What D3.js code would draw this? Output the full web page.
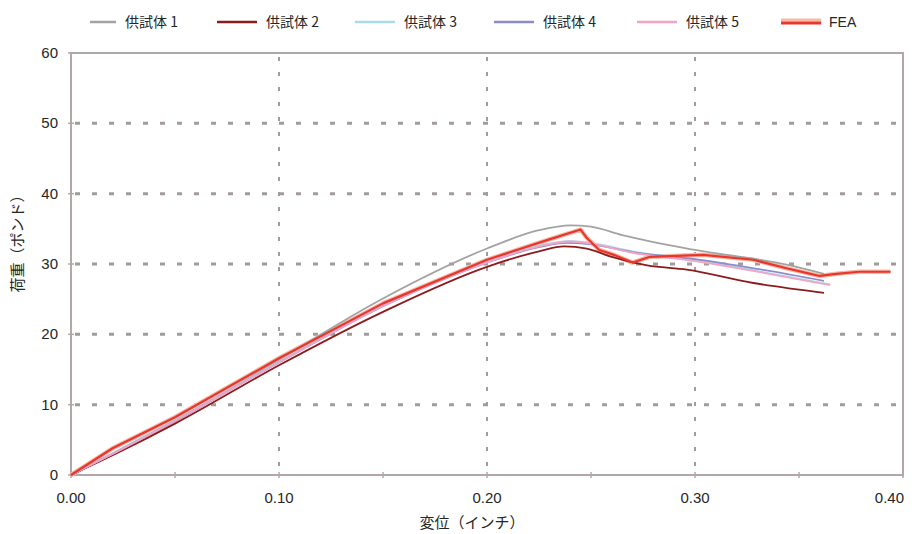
<!DOCTYPE html>
<html>
<head>
<meta charset="utf-8">
<script src="https://cdn.jsdelivr.net/npm/d3@7"></script>
<style>
  body { margin: 0; background: #fff; }
  svg { display: block; }
  text { font-family: "Liberation Sans", Arial, "Noto Sans CJK JP", sans-serif; fill: #262626; }
  .jp { font-family: "Noto Sans CJK JP", sans-serif; }
</style>
</head>
<body>
<svg width="923" height="534"></svg>
<script>
// series names
const names = ['供試体 1', '供試体 2', '供試体 3', '供試体 4', '供試体 5', 'FEA'];
const colors = ['#a3a3a3', '#8c1c1c', '#a9dbe8', '#8c8cc8', '#f3a3c6', '#e8362c'];

// [displacement (in), load (lb)]
const s1 = [[0,0],[0.02,3.0],[0.05,7.6],[0.10,16.4],[0.15,25.1],[0.20,32.2],[0.225,34.8],[0.24,35.5],[0.25,35.3],[0.265,34.1],[0.30,32.0],[0.344,29.9],[0.362,28.6]];
const s2 = [[0,0],[0.02,2.8],[0.05,7.3],[0.10,15.6],[0.15,23.2],[0.20,29.6],[0.225,31.8],[0.237,32.5],[0.248,32.2],[0.26,31.0],[0.277,29.8],[0.296,29.2],[0.328,27.3],[0.362,25.9]];
const s3 = [[0,0],[0.02,3.1],[0.05,7.8],[0.10,16.1],[0.15,24.1],[0.20,30.3],[0.225,32.6],[0.24,33.3],[0.25,33.0],[0.27,31.8],[0.30,30.6],[0.33,29.0],[0.365,27.1]];
const s4 = [[0,0],[0.02,3.0],[0.05,7.7],[0.10,16.0],[0.15,24.0],[0.20,30.2],[0.225,32.4],[0.238,33.0],[0.25,32.8],[0.27,31.7],[0.30,30.7],[0.33,29.3],[0.362,27.6]];
const s5 = [[0,0],[0.02,3.0],[0.05,7.7],[0.10,16.0],[0.15,24.0],[0.20,30.2],[0.225,32.5],[0.24,33.2],[0.25,32.9],[0.27,31.6],[0.30,30.4],[0.33,28.9],[0.365,27.0]];
const fea = [[0,0],[0.02,3.8],[0.05,8.2],[0.10,16.6],[0.15,24.4],[0.20,30.6],[0.23,33.5],[0.245,34.9],[0.248,33.7],[0.254,32.0],[0.261,31.3],[0.27,30.2],[0.278,31.0],[0.304,31.3],[0.328,30.6],[0.344,29.4],[0.354,28.7],[0.36,28.3],[0.368,28.6],[0.379,28.9],[0.394,28.9]];
const series = [s1, s2, s3, s4, s5, fea];

const xTicks = [0, 0.1, 0.2, 0.3, 0.4];
const xMinor = [0.05, 0.15, 0.25, 0.35];
const yTicks = [0, 10, 20, 30, 40, 50, 60];

const svg = d3.select('svg');
const L = 71, R = 903, T = 53, B = 475;
const axisColor = '#b3a7a7';

const x = d3.scaleLinear().domain([0, 0.4]).range([L, R]);
const y = d3.scaleLinear().domain([0, 60]).range([B, T]);

// grid
svg.append('g').selectAll('line')
  .data(yTicks.filter(d => d > 0 && d < 60))
  .join('line')
  .attr('x1', L + 4).attr('x2', R)
  .attr('y1', d => y(d)).attr('y2', d => y(d))
  .attr('stroke', '#a39a9a').attr('stroke-width', 3)
  .attr('stroke-dasharray', '5,12');

svg.append('g').selectAll('line')
  .data(xTicks.filter(d => d > 0 && d < 0.4))
  .join('line')
  .attr('x1', d => x(d)).attr('x2', d => x(d))
  .attr('y1', T + 4).attr('y2', B)
  .attr('stroke', '#a39a9a').attr('stroke-width', 2)
  .attr('stroke-dasharray', '4,11');

// frame
svg.append('rect')
  .attr('x', L).attr('y', T).attr('width', R - L).attr('height', B - T)
  .attr('fill', 'none').attr('stroke', axisColor).attr('stroke-width', 2);

// ticks
svg.append('g').selectAll('line')
  .data(xTicks.concat(xMinor))
  .join('line')
  .attr('x1', d => x(d)).attr('x2', d => x(d))
  .attr('y1', B - 3).attr('y2', B + 3)
  .attr('stroke', axisColor).attr('stroke-width', 1.5);

svg.append('g').selectAll('line')
  .data(yTicks)
  .join('line')
  .attr('x1', L - 3).attr('x2', L + 3)
  .attr('y1', d => y(d)).attr('y2', d => y(d))
  .attr('stroke', axisColor).attr('stroke-width', 1.5);

// tick labels
svg.append('g').selectAll('text')
  .data(yTicks)
  .join('text')
  .attr('x', 58).attr('y', d => y(d) + 5)
  .attr('text-anchor', 'end').attr('font-size', 15)
  .text(d => d);

svg.append('g').selectAll('text')
  .data(xTicks)
  .join('text')
  .attr('x', d => d === 0.4 ? R + 1 : x(d))
  .attr('y', 503)
  .attr('text-anchor', d => d === 0.4 ? 'end' : 'middle')
  .attr('font-size', 15)
  .text(d => d3.format('.2f')(d));

// axis titles
svg.append('text').attr('class', 'jp')
  .attr('x', 472).attr('y', 528)
  .attr('text-anchor', 'middle').attr('font-size', 15)
  .text('変位（インチ）');

svg.append('text').attr('class', 'jp')
  .attr('transform', 'translate(23,240) rotate(-90)')
  .attr('text-anchor', 'middle').attr('font-size', 15)
  .text('荷重（ポンド）');

// lines: specimens smooth, FEA straight segments
const smooth = d3.line().x(d => x(d[0])).y(d => y(d[1])).curve(d3.curveMonotoneX);
const line = d3.line().x(d => x(d[0])).y(d => y(d[1]));

// FEA halo
svg.append('path').datum(fea)
  .attr('d', line).attr('fill', 'none')
  .attr('stroke', '#f6b9a8').attr('stroke-width', 4.5)
  .attr('stroke-linejoin', 'round');

[0, 1, 2, 3, 4, 5].forEach(i => {
  svg.append('path').datum(series[i])
    .attr('d', i === 5 ? line : smooth).attr('fill', 'none')
    .attr('stroke', colors[i])
    .attr('stroke-width', i === 5 ? 2.2 : 1.8)
    .attr('stroke-linejoin', 'round');
});

// legend
const legX = [90, 217, 355, 494, 637, 781];
const lg = svg.append('g').selectAll('g')
  .data(names)
  .join('g')
  .attr('transform', (d, i) => `translate(${legX[i]},22)`);

lg.filter((d, i) => i === 5).append('line')
  .attr('x1', 0).attr('x2', 40)
  .attr('y1', -2).attr('y2', -2)
  .attr('stroke', '#f6b9a8').attr('stroke-width', 3);

lg.append('line')
  .attr('x1', 0).attr('x2', (d, i) => i === 0 ? 26 : 40)
  .attr('y1', (d, i) => i === 5 ? 1 : 0).attr('y2', (d, i) => i === 5 ? 1 : 0)
  .attr('stroke', (d, i) => colors[i])
  .attr('stroke-width', (d, i) => i === 5 ? 3 : 2.5);

lg.append('text')
  .attr('class', (d, i) => i === 5 ? null : 'jp')
  .attr('x', (d, i) => i === 0 ? 35 : (i === 5 ? 48 : 49))
  .attr('y', 5).attr('font-size', 14)
  .text(d => d);
</script>
</body>
</html>
